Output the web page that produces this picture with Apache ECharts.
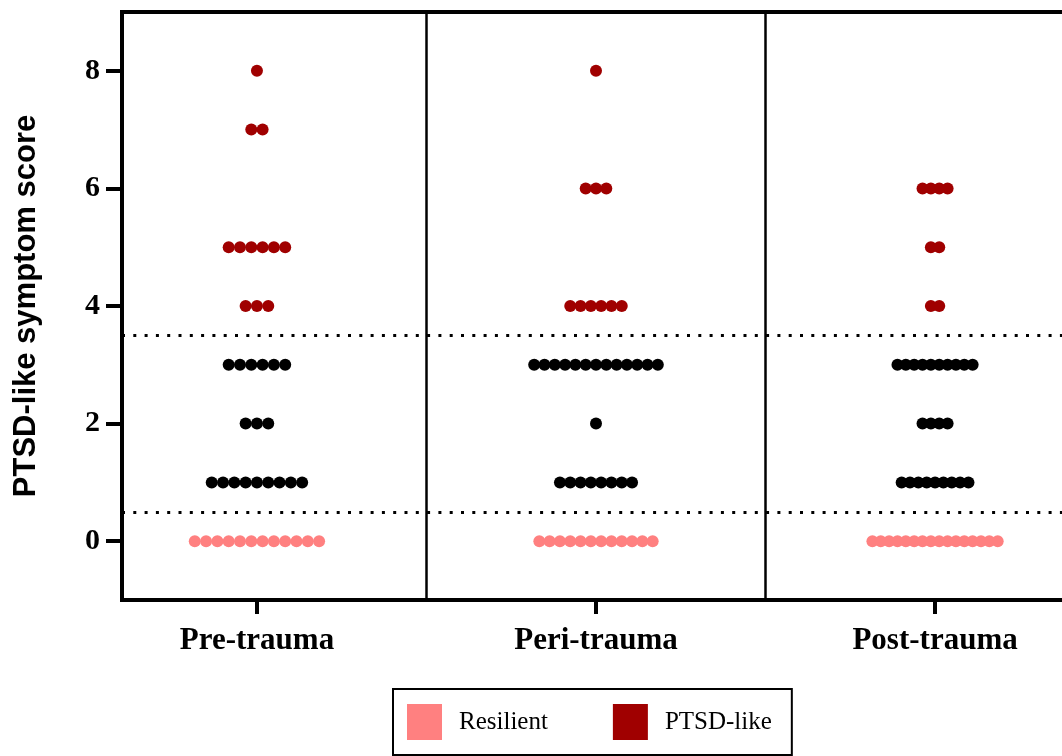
<!DOCTYPE html>
<html>
<head>
<meta charset="utf-8">
<script src="https://cdn.jsdelivr.net/npm/echarts@6/dist/echarts.min.js"></script>
<style>
html,body{margin:0;padding:0;background:#fff;}
#chart{width:1062px;height:756px;}
</style>
</head>
<body>
<div id="chart"></div>
<script>
// ---- data ----
const categories = ['Pre-trauma', 'Peri-trauma', 'Post-trauma'];
const scoreLevels = [0, 1, 2, 3, 4, 5, 6, 7, 8];
// number of subjects at each score (index = score)
const preTraumaCounts  = [12, 9, 3, 6, 3, 6, 0, 2, 1];
const periTraumaCounts = [12, 8, 1, 13, 6, 0, 3, 0, 1];
const postTraumaCounts = [16, 9, 4, 10, 2, 2, 4, 0, 0];
const yTickValues = [0, 2, 4, 6, 8];
const thresholds = [0.5, 3.5];
const legendNames = ['Resilient', 'PTSD-like'];

// ---- layout (dot swarm spacing per column, in pixels) ----
const groupCounts = [preTraumaCounts, periTraumaCounts, postTraumaCounts];
const dotSpacingPx = [11.3, 10.3, 8.35];
const pxPerUnit = 339;

function buildDots(test) {
  const out = [];
  groupCounts.forEach((counts, g) => {
    scoreLevels.forEach((s) => {
      const n = counts[s];
      if (!n || !test(s)) return;
      for (let j = 0; j < n; j++) {
        const off = (j - (n - 1) / 2) * dotSpacingPx[g] / pxPerUnit;
        out.push([g + off, s]);
      }
    });
  });
  return out;
}

const serif = 'Liberation Serif';
const chart = echarts.init(document.getElementById('chart'));
chart.setOption({
  animation: false,
  backgroundColor: '#fff',
  grid: {
    left: 122, top: 12, right: -8, bottom: 156,
    show: true, borderColor: '#000', borderWidth: 4,
    outerBoundsMode: 'none'
  },
  legend: {
    data: legendNames,
    left: 393, top: 689,
    orient: 'horizontal',
    icon: 'rect',
    itemWidth: 35, itemHeight: 36,
    itemGap: 65,
    padding: [15, 20, 15, 14],
    borderColor: '#000', borderWidth: 2,
    textStyle: { fontFamily: serif, fontSize: 25, color: '#000', padding: [0, 0, 0, 12] }
  },
  xAxis: {
    type: 'value',
    min: -0.398, max: 2.398,
    axisLine: { show: true, onZero: false, lineStyle: { color: '#000', width: 4 } },
    axisTick: { show: true, customValues: [0, 1, 2], length: 14, lineStyle: { color: '#000', width: 4 } },
    axisLabel: {
      customValues: [0, 1, 2],
      formatter: (v) => categories[Math.round(v)],
      margin: 25,
      fontFamily: serif, fontWeight: 'bold', fontSize: 31, color: '#000'
    },
    splitLine: { show: false }
  },
  yAxis: {
    type: 'value',
    min: -1, max: 9,
    name: 'PTSD-like symptom score',
    nameLocation: 'middle',
    nameGap: 80,
    nameTextStyle: { fontFamily: 'Liberation Sans', fontWeight: 'bold', fontSize: 31, color: '#000' },
    axisLine: { show: true, onZero: false, lineStyle: { color: '#000', width: 4 } },
    axisTick: { show: true, customValues: yTickValues, length: 16, lineStyle: { color: '#000', width: 4 } },
    axisLabel: {
      customValues: yTickValues,
      margin: 22,
      fontFamily: serif, fontWeight: 'bold', fontSize: 30, color: '#000'
    },
    splitLine: { show: false }
  },
  series: [
    {
      name: 'Resilient', type: 'scatter', symbolSize: 12,
      itemStyle: { color: '#FF8080', opacity: 1 },
      data: buildDots((s) => s === 0),
      markLine: {
        silent: true, symbol: 'none', label: { show: false },
        lineStyle: { color: '#000', width: 2.5, type: 'solid' },
        data: [{ xAxis: 0.5 }, { xAxis: 1.5 }]
      }
    },
    {
      name: 'Intermediate', type: 'scatter', symbolSize: 12,
      itemStyle: { color: '#000', opacity: 1 },
      data: buildDots((s) => s >= 1 && s <= 3),
      markLine: {
        silent: true, symbol: 'none', label: { show: false },
        lineStyle: { color: '#000', width: 3, type: [3, 8.3] },
        data: thresholds.map((t) => ({ yAxis: t }))
      }
    },
    {
      name: 'PTSD-like', type: 'scatter', symbolSize: 12,
      itemStyle: { color: '#A00000', opacity: 1 },
      data: buildDots((s) => s >= 4)
    }
  ]
});
</script>
</body>
</html>
